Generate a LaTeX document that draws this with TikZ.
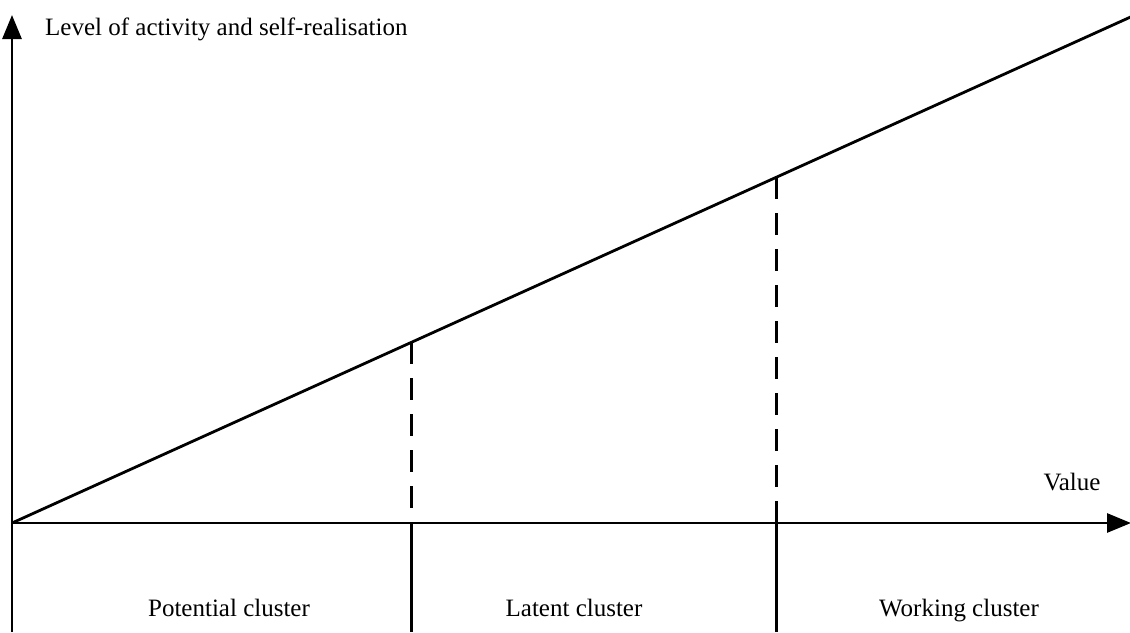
\documentclass[tikz,border=0pt]{standalone}
\usepackage{fontspec}
\setmainfont{Liberation Serif}
\usetikzlibrary{positioning, arrows.meta, calc}

\tikzset{
  axis/.style={line width=2.8pt, -{Triangle[length=24pt, width=19pt]}},
  bar/.style={line width=2.8pt},
  guide/.style={line width=2.8pt, dash pattern=on 22pt off 14pt},
  lbl/.style={font=\fontsize{25}{30}\selectfont, inner sep=0pt}
}

\begin{document}
\begin{tikzpicture}[x=1pt, y=-1pt]
  \useasboundingbox (0,0) rectangle (1130,632);

  % axes
  \coordinate (O) at (12,523);
  \coordinate (Ytop) at (12,15);
  \coordinate (Ybot) at (12,632);
  \coordinate (Xend) at (1131,523);
  \draw[axis] (Ybot) -- (Ytop);
  \draw[axis] (O) -- (Xend);
  \node[lbl, anchor=base west] (ylab) at (45,35) {Level of activity and self-realisation};
  \node[lbl, anchor=base] (xlab) at (1072,490) {Value};

  % growth line
  \coordinate (E) at (1135,15);
  \draw[bar] (O) -- (E);
  \coordinate (P1) at ($(O)!0.356!(E)$);
  \coordinate (P2) at ($(O)!0.6807!(E)$);
  \coordinate (B1) at (P1 |- O);
  \coordinate (B2) at (P2 |- O);
  \draw[guide] (P1) -- (B1);
  \draw[guide] (P2) -- (B2);

  % clusters
  \coordinate (D1) at (P1 |- Ybot);
  \coordinate (D2) at (P2 |- Ybot);
  \draw[bar] (B1) -- (D1);
  \draw[bar] (B2) -- (D2);
  \node[lbl, anchor=base] (pot) at (229,616) {Potential cluster};
  \node[lbl, anchor=base] (lat) at (574,616) {Latent cluster};
  \node[lbl, anchor=base] (wrk) at (959,616) {Working cluster};
\end{tikzpicture}
\end{document}
